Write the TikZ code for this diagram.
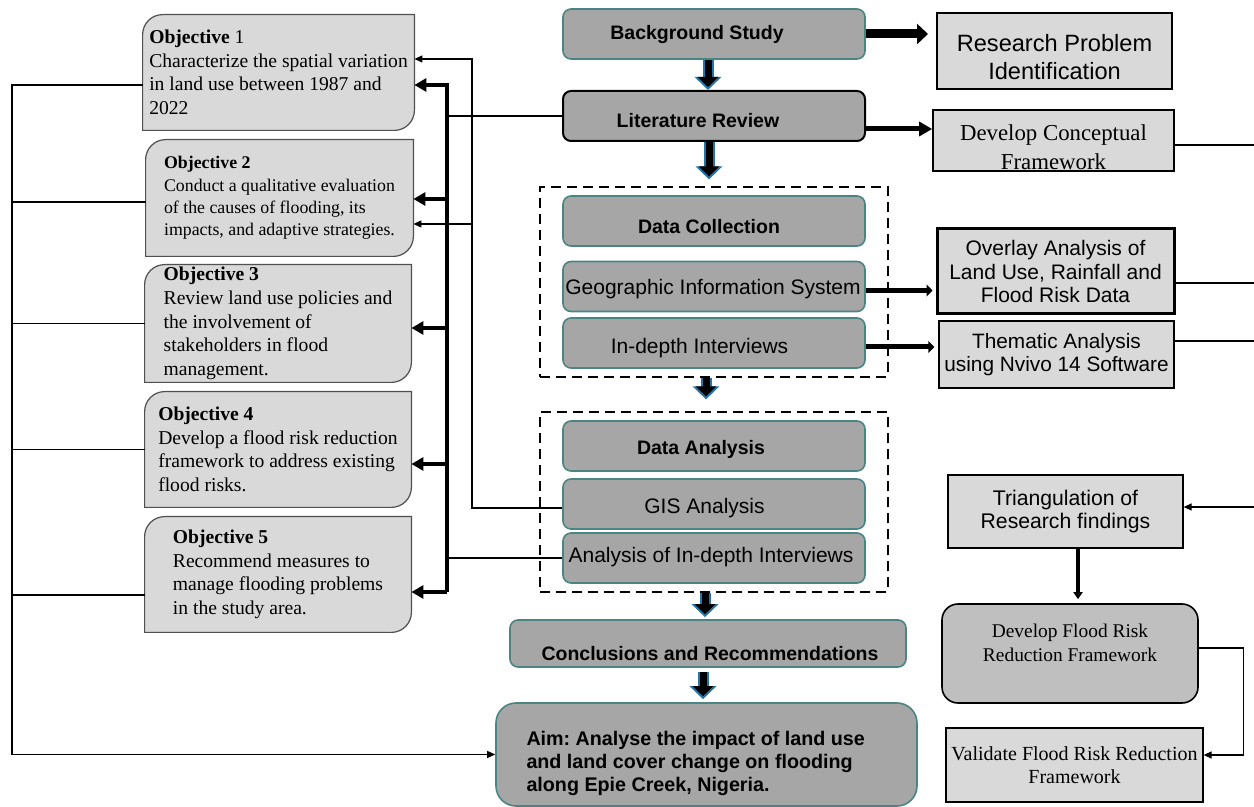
\documentclass[tikz,border=0pt]{standalone}
\usepackage{fontspec}
\setmainfont{Liberation Serif}
\setsansfont{Liberation Sans}
\usetikzlibrary{arrows.meta}
\usetikzlibrary{positioning}
\usetikzlibrary{fit}

\definecolor{boxgray}{HTML}{A6A6A6}
\definecolor{panelgray}{HTML}{D9D9D9}
\definecolor{framegray}{HTML}{BFBFBF}
\definecolor{tealedge}{HTML}{4A8584}
\definecolor{arrowblue}{HTML}{2474A6}
\definecolor{objedge}{HTML}{505050}

\pgfdeclarelayer{background}
\pgfsetlayers{background,main}

% move a text inside its box without changing the box
\newcommand{\nudge}[3]{\raisebox{#2}[0pt][0pt]{\makebox[0pt]{\kern#1\relax#3\kern-#1\relax}}}

\begin{document}
\frenchspacing
\begin{tikzpicture}[x=0.5pt,y=-0.5pt]
		
		\tikzset{mainbox/.style = {draw=tealedge, line width=0.8pt, fill=boxgray, rounded corners=4pt, minimum width=151pt, minimum height=25pt, inner sep=1pt, font=\sffamily\fontsize{10.5}{12}\selectfont}}
		\tikzset{headbox/.style = {mainbox, font=\sffamily\bfseries\fontsize{9.75}{11.7}\selectfont}}
		\tikzset{aimbox/.style = {draw=tealedge, line width=0.8pt, fill=boxgray, rounded corners=10pt, minimum width=210.5pt, minimum height=51.5pt, inner sep=0pt, font=\sffamily\bfseries\fontsize{9.85}{11.7}\selectfont}}
		\tikzset{sidebox/.style = {draw, fill=panelgray, inner sep=1pt, align=center, font=\sffamily\fontsize{10.5}{11.7}\selectfont}}
		\tikzset{objtext/.style = {inner sep=0pt, align=left, font=\fontsize{9.8}{11.8}\selectfont}}
		\tikzset{objshape/.style = {draw=objedge, line width=0.6pt, fill=panelgray}}
		\tikzset{dashbox/.style = {draw, line width=0.8pt, dash pattern=on 5pt off 3pt, inner xsep=11pt, inner ysep=4pt}}
		\tikzset{blockarrow/.style = {line width=3.5pt, -{Triangle[length=5pt,width=10pt]}, shorten >=1.5pt, preaction={draw=arrowblue, line width=5.5pt, -{Triangle[length=6.5pt,width=13pt]}, shorten >=0pt}}}
		\tikzset{plainline/.style = {line width=0.6pt}}
		\tikzset{thinarrow/.style = {line width=0.6pt, -{Triangle[length=4pt,width=3.5pt]}}}
		\tikzset{fatarrow/.style = {line width=1.6pt, -{Triangle[length=6pt,width=6.5pt]}}}
		\tikzset{bigarrow/.style = {line width=4.5pt, -{Triangle[length=5.5pt,width=10pt]}}}
		\tikzset{medarrow/.style = {line width=2.5pt, -{Triangle[length=6.5pt,width=7pt]}}}
		\tikzset{sharparrow/.style = {line width=2.5pt, -{Triangle[length=3pt,width=6pt]}}}
		\tikzset{downarrow/.style = {line width=2pt, -{Triangle[length=3.5pt,width=4.5pt]}}}
		
		\useasboundingbox (0,0) rectangle (1254,807);
		
		% main column
		\node[headbox] (bs) at (714,34) {\nudge{-8.5pt}{-3pt}{Background Study}};
		\node[headbox, draw=black, line width=1pt] (lr) at (714,116) {\nudge{-8pt}{-6pt}{Literature Review}};
		\node[headbox] (dc) at (714,221) {\nudge{-2.5pt}{-6.5pt}{Data Collection}};
		\node[mainbox] (gis) at (714,286.5) {\nudge{-0.5pt}{-4.25pt}{Geographic Information System}};
		\node[mainbox] (idi) at (714,343) {\nudge{-7.25pt}{-5.25pt}{In-depth Interviews}};
		\node[headbox] (da) at (714,446) {\nudge{-6.5pt}{-4.5pt}{Data Analysis}};
		\node[mainbox] (gisa) at (714,504) {\nudge{-4.75pt}{-5pt}{GIS Analysis}};
		\node[mainbox] (aidi) at (714,558) {\nudge{-1.5pt}{-2.5pt}{Analysis of In-depth Interviews}};
		\node[headbox, minimum width=198pt, minimum height=23.5pt] (cr) at (708,643.5) {\nudge{1pt}{-8.5pt}{Conclusions and Recommendations}};
		\node[aimbox] (aim) at (706.5,754.5) {\nudge{0pt}{-7pt}{\parbox{180pt}{\raggedright Aim: Analyse the impact of land use\\and land cover change on flooding\\along Epie Creek, Nigeria.}}};
		
		\node[dashbox, fit=(dc)(gis)(idi)] (dcbox) {};
		\node[dashbox, fit=(da)(gisa)(aidi)] (dabox) {};
		
		% right column
		\node[sidebox, line width=1pt, minimum width=117.5pt, minimum height=38pt, font=\sffamily\fontsize{11.8}{13.8}\selectfont] (rp) at (1054.5,51) {\nudge{0pt}{-7.5pt}{\begin{tabular}{@{}c@{}}Research Problem\\Identification\end{tabular}}};
		\node[sidebox, line width=0.8pt, minimum width=120.5pt, minimum height=30.5pt, font=\fontsize{11.4}{14.5}\selectfont] (cf) at (1053.5,140.5) {\nudge{0pt}{-7pt}{\begin{tabular}{@{}c@{}}Develop Conceptual\\Framework\end{tabular}}};
		\node[sidebox, line width=1.5pt, minimum width=118.5pt, minimum height=42.5pt] (ov) at (1055.5,271.5) {Overlay Analysis of\\Land Use, Rainfall and\\Flood Risk Data};
		\node[sidebox, line width=0.7pt, minimum width=117.5pt, minimum height=33.5pt, font=\sffamily\fontsize{10.4}{11.5}\selectfont] (th) at (1056.5,354.5) {Thematic Analysis\\using Nvivo 14 Software};
		\node[sidebox, line width=0.6pt, minimum width=117.5pt, minimum height=36.5pt, font=\sffamily\fontsize{10.6}{11.8}\selectfont] (tr) at (1065.5,511.5) {Triangulation of\\Research findings};
		\node[draw, line width=0.8pt, fill=framegray, rounded corners=8pt, minimum width=128pt, minimum height=49.5pt, font=\fontsize{9.7}{12}\selectfont] (fr) at (1070,653.5) {\nudge{0pt}{1.8pt}{\begin{tabular}{@{}c@{}}Develop Flood Risk\\Reduction Framework\end{tabular}}};
		\node[sidebox, line width=0.6pt, minimum width=128.5pt, minimum height=37pt, font=\fontsize{10}{11.5}\selectfont] (va) at (1074.5,765) {Validate Flood Risk Reduction\\Framework};
		
		% objectives
		\node[objtext, minimum width=135.5pt, minimum height=57.5pt] (o1) at (278.5,72.5) {\textbf{Objective} 1\\Characterize the spatial variation\\in land use between 1987 and\\2022};
		\node[objtext, minimum width=133.5pt, minimum height=58pt, font=\fontsize{8.9}{11.2}\selectfont] (o2) at (279.5,198) {\textbf{Objective 2}\\Conduct a qualitative evaluation\\of the causes of flooding, its\\impacts, and adaptive strategies.};
		\node[objtext, minimum width=133pt, minimum height=58.5pt] (o3) at (278,323.5) {\textbf{Objective 3}\\Review land use policies and\\the involvement of\\stakeholders in flood\\management.};
		\node[objtext, minimum width=133pt, minimum height=57.5pt] (o4) at (278,449.5) {\textbf{Objective 4}\\Develop a flood risk reduction\\framework to address existing\\flood risks.};
		\node[objtext, minimum width=133pt, minimum height=57.5pt] (o5) at (278,574.5) {\textbf{Objective 5}\\Recommend measures to\\manage flooding problems\\in the study area.};
		
		\begin{pgfonlayer}{background}
		\draw[objshape] (o1.south west) -- ([yshift=-10pt]o1.north west) arc[start angle=180,end angle=90,radius=10pt] -- (o1.north east) -- ([yshift=10pt]o1.south east) arc[start angle=0,end angle=-90,radius=10pt] -- cycle;
		\draw[objshape] (o2.south west) -- ([yshift=-10pt]o2.north west) arc[start angle=180,end angle=90,radius=10pt] -- (o2.north east) -- ([yshift=10pt]o2.south east) arc[start angle=0,end angle=-90,radius=10pt] -- cycle;
		\draw[objshape] (o3.south west) -- ([yshift=-10pt]o3.north west) arc[start angle=180,end angle=90,radius=10pt] -- (o3.north east) -- ([yshift=10pt]o3.south east) arc[start angle=0,end angle=-90,radius=10pt] -- cycle;
		\draw[objshape] (o4.south west) -- ([yshift=-10pt]o4.north west) arc[start angle=180,end angle=90,radius=10pt] -- (o4.north east) -- ([yshift=10pt]o4.south east) arc[start angle=0,end angle=-90,radius=10pt] -- cycle;
		\draw[objshape] (o5.south west) -- ([yshift=-10pt]o5.north west) arc[start angle=180,end angle=90,radius=10pt] -- (o5.north east) -- ([yshift=10pt]o5.south east) arc[start angle=0,end angle=-90,radius=10pt] -- cycle;
		\end{pgfonlayer}
		
		%edges
		\draw[blockarrow] ([xshift=-3pt]bs.south) -- ([xshift=-3pt]lr.north);
		\draw[blockarrow] ([xshift=-2.5pt]lr.south) -- ([xshift=-2.5pt,yshift=3.5pt]dcbox.north);
		\draw[blockarrow] ([xshift=-4pt]dcbox.south) -- ([xshift=-4pt,yshift=6pt]dabox.north);
		\draw[blockarrow] ([xshift=-4.5pt]dabox.south) -- ([xshift=-1.5pt,yshift=1pt]cr.north);
		\draw[blockarrow] ([xshift=-2.5pt,yshift=-2pt]cr.south) -- ([xshift=-1.75pt,yshift=1.5pt]aim.north);
		
		\draw[bigarrow, shorten >=4pt] (bs.east) -- (bs.east -| rp.west);
		\coordinate (lrout) at ([yshift=-6.5pt]lr.east);
		\draw[medarrow] (lrout) -- (lrout -| cf.west);
		\coordinate (gisout) at ([yshift=-2pt]gis.east);
		\draw[sharparrow, shorten >=1.5pt] (gisout) -- (gisout -| ov.west);
		\coordinate (idiout) at ([yshift=-2pt]idi.east);
		\draw[sharparrow, shorten >=2pt] (idiout) -- (idiout -| th.west);
		
		\coordinate (rim) at (1254,0);
		\coordinate (cfout) at ([yshift=-2.25pt]cf.east);
		\draw[plainline] (cfout) -- (cfout -| rim);
		\coordinate (ovout) at ([yshift=-5.75pt]ov.east);
		\draw[plainline] (ovout) -- (ovout -| rim);
		\coordinate (thout) at ([yshift=6.75pt]th.east);
		\draw[plainline] (thout) -- (thout -| rim);
		\coordinate (trin) at ([yshift=2.25pt]tr.east);
		\draw[thinarrow] (trin -| rim) -- (trin);
		\coordinate (trdown) at ([xshift=6.25pt]tr.south);
		\draw[downarrow, shorten >=2pt] (trdown) -- (trdown |- fr.north);
		\coordinate (frout) at ([yshift=2.75pt]fr.east);
		\coordinate (vain) at ([yshift=5pt]va.east);
		\draw[thinarrow] (frout) -- ++(22.5pt,0) |- (vain);
		
		% left side
		\coordinate (lt) at (12,85);
		\coordinate (ol1) at ([yshift=-6.25pt]o1.west);
		\draw[thinarrow] (ol1) -- (ol1 -| lt) |- (aim.west);
		\coordinate (ol2) at ([yshift=-2pt]o2.west);
		\draw[plainline] (ol2) -- (ol2 -| lt);
		\draw[plainline] (o3.west) -- (o3.west -| lt);
		\draw[plainline] (o4.west) -- (o4.west -| lt);
		\coordinate (ol5) at ([yshift=-10.25pt]o5.west);
		\draw[plainline] (ol5) -- (ol5 -| lt);
		
		\coordinate (tk) at (447,0);
		\coordinate (or1) at ([yshift=-6.25pt]o1.east);
		\coordinate (or2) at ([yshift=-0.5pt]o2.east);
		\coordinate (or3) at ([yshift=-2.25pt]o3.east);
		\coordinate (or4) at ([yshift=-7.25pt]o4.east);
		\coordinate (or5) at ([yshift=-8.75pt]o5.east);
		\draw[fatarrow] (or5 -| tk) -- (or1 -| tk) -- (or1);
		\draw[fatarrow] (or2 -| tk) -- (or2);
		\draw[fatarrow] (or3 -| tk) -- (or3);
		\draw[fatarrow] (or4 -| tk) -- (or4);
		\draw[fatarrow] (or5 -| tk) -- (or5);
		\draw[plainline] (lr.west) -- (lr.west -| tk);
		\draw[plainline] (aidi.west) -- (aidi.west -| tk);
		
		\coordinate (tn) at (472,0);
		\coordinate (ot1) at ([yshift=6.75pt]o1.east);
		\coordinate (ot2) at ([yshift=-13pt]o2.east);
		\coordinate (gisain) at ([yshift=-2pt]gisa.west);
		\draw[thinarrow] (gisain) -- (gisain -| tn) -- (ot1 -| tn) -- (ot1);
		\draw[thinarrow] (ot2 -| tn) -- (ot2);
		
\end{tikzpicture}
\end{document}
